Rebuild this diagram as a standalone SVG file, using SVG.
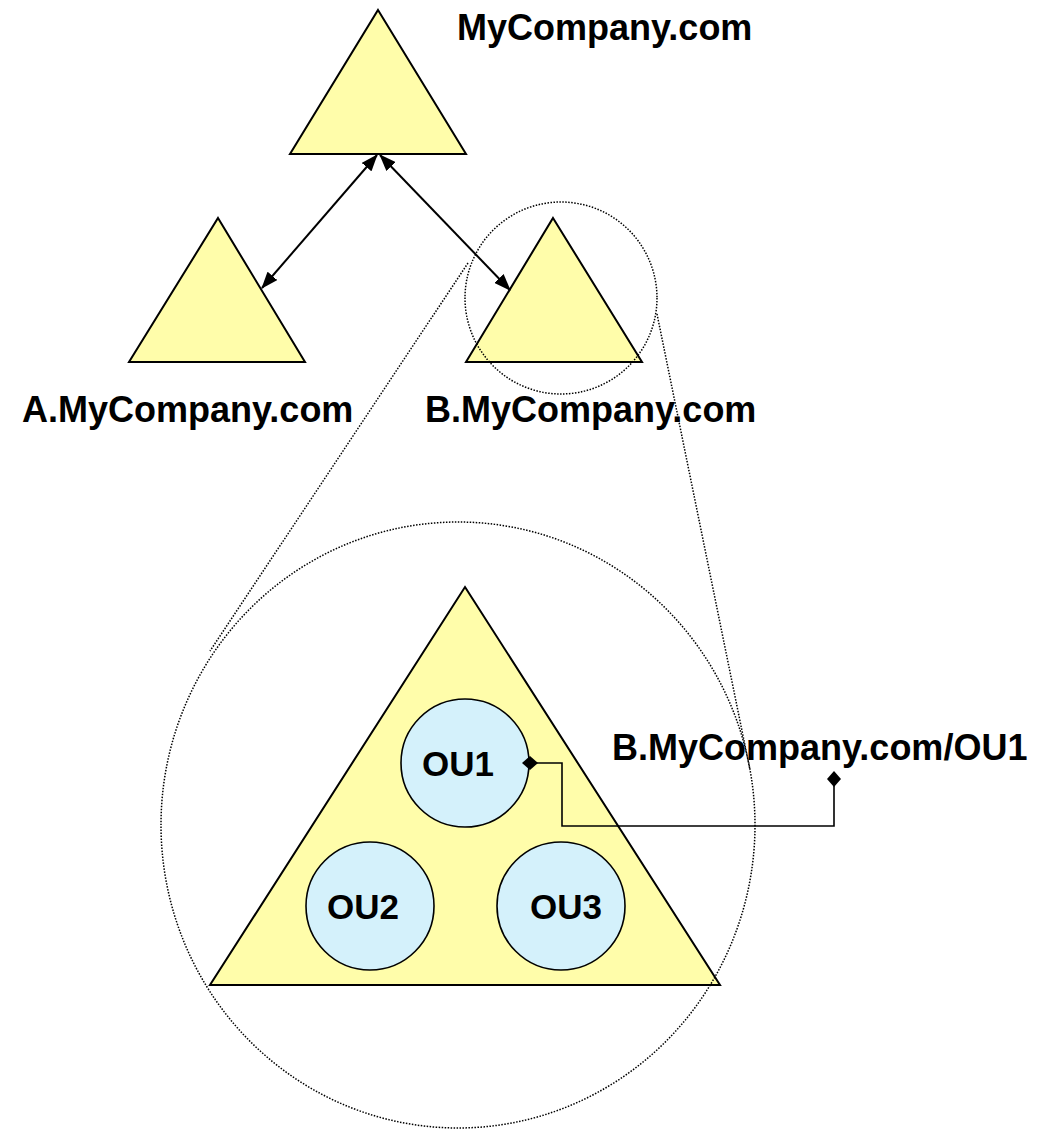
<svg xmlns="http://www.w3.org/2000/svg" width="1058" height="1129" viewBox="0 0 1058 1129">
<style>
.tri{fill:#FFFDAA;stroke:#000;stroke-width:2;stroke-linejoin:miter}
.ou{fill:#D4F1FB;stroke:#000;stroke-width:1.6}
.lbl{font-family:"Liberation Sans",Arial,sans-serif;font-weight:bold;font-size:36px;fill:#000}
.oul{font-family:"Liberation Sans",Arial,sans-serif;font-weight:bold;font-size:35px;fill:#000;text-anchor:middle}
.dot{fill:none;stroke:#000;stroke-width:1.5;stroke-dasharray:1.5 1.5}
.arr{fill:none;stroke:#000;stroke-width:2;marker-start:url(#ah);marker-end:url(#ah)}
.con{fill:none;stroke:#000;stroke-width:1.6;marker-start:url(#dm);marker-end:url(#dm)}
</style>
<defs>
<marker id="ah" markerUnits="userSpaceOnUse" markerWidth="17" markerHeight="13" refX="16" refY="6.5" orient="auto-start-reverse" viewBox="0 0 17 13">
<path d="M0,0 L17,6.5 L0,13 z" fill="#000"/>
</marker>
<marker id="dm" markerUnits="userSpaceOnUse" markerWidth="16" markerHeight="14" refX="8" refY="7" orient="auto" viewBox="0 0 16 14">
<path d="M0,7 L8,0 L16,7 L8,14 z" fill="#000"/>
</marker>
</defs>
<g id="node-mycompany">
<polygon class="tri" points="378,10 466,154 290,154"/>
<text class="lbl" x="457" y="40">MyCompany.com</text>
</g>
<g id="node-a">
<polygon class="tri" points="218,218 305,362 129,362"/>
<text class="lbl" x="22" y="422">A.MyCompany.com</text>
</g>
<g id="node-b">
<polygon class="tri" points="553,218 642,362 466,362"/>
<text class="lbl" x="425" y="422">B.MyCompany.com</text>
</g>
<g id="node-b-detail">
<polygon class="tri" points="465,587 720,985 210,985"/>
</g>
<g id="node-ou1">
<circle class="ou" cx="465" cy="763" r="64"/>
<text class="oul" x="458" y="776">OU1</text>
</g>
<g id="node-ou2">
<circle class="ou" cx="370" cy="906" r="64"/>
<text class="oul" x="363" y="919">OU2</text>
</g>
<g id="node-ou3">
<circle class="ou" cx="561" cy="906" r="64"/>
<text class="oul" x="566" y="919">OU3</text>
</g>
<g id="node-ou1-label">
<text class="lbl" x="612" y="760">B.MyCompany.com/OU1</text>
</g>
<g id="connectors">
<line class="arr" x1="377" y1="155" x2="262" y2="288"/>
<line class="arr" x1="380" y1="155" x2="510" y2="290"/>
<polyline class="con" points="530,763 562,763 562,826 834,826 834,779"/>
</g>
<g id="zoom-callout">
<ellipse class="dot" cx="561" cy="298" rx="96" ry="96"/>
<ellipse class="dot" cx="458" cy="825" rx="297" ry="303"/>
<line class="dot" x1="468" y1="263" x2="210" y2="651"/>
<line class="dot" x1="657" y1="314" x2="750" y2="770"/>
</g>
</svg>
